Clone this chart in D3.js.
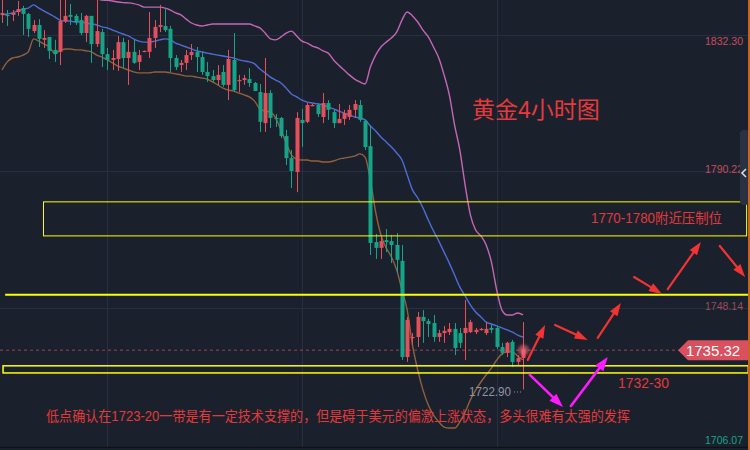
<!DOCTYPE html>
<html><head><meta charset="utf-8">
<script src="https://cdn.jsdelivr.net/npm/d3@7"></script>
<style>
html,body{margin:0;padding:0;background:#1b202d;overflow:hidden}
svg{display:block}
</style></head><body>
<svg id="c" width="750" height="450"></svg>
<script>
const opens=[1838.5,1838.5,1838.5,1839.4,1840.6,1838.8,1833.5,1835.4,1830.8,1831.7,
1827.7,1827.1,1836.6,1838.5,1838.2,1836.9,1832.9,1838.2,1829.5,1833.2,
1826.4,1824.6,1824.9,1830.1,1825.2,1827.1,1824.0,1827.1,1827.1,1831.4,
1834.8,1835.1,1834.2,1825.2,1823.0,1823.7,1826.1,1827.1,1825.5,1820.9,
1819.6,1818.4,1820.9,1816.9,1824.6,1818.1,1818.4,1818.7,1817.5,1814.7,
1805.1,1814.4,1806.7,1806.7,1801.1,1794.3,1790.0,1806.1,1805.5,1810.4,
1810.7,1807.0,1811.3,1808.5,1805.1,1806.4,1807.0,1809.2,1810.7,1805.8,
1798.0,1768.4,1766.6,1769.0,1768.7,1767.5,1762.6,1732.9,1738.8,1739.1,
1745.3,1744.0,1743.4,1739.1,1740.3,1740.6,1741.6,1740.3,1740.3,1740.6,
1740.6,1741.3,1740.3,1741.9,1741.9,1736.0,1734.2,1737.6,1731.4,1732.6];
const highs=[1843.1,1840.0,1840.0,1842.8,1841.3,1839.1,1836.9,1837.2,1833.8,1831.7,
1830.8,1843.1,1843.1,1841.9,1838.8,1839.1,1838.5,1838.2,1843.1,1834.2,
1828.3,1827.7,1832.0,1831.4,1830.8,1830.8,1827.7,1827.5,1839.4,1836.9,
1841.6,1840.6,1835.1,1826.1,1824.6,1827.7,1829.5,1828.6,1827.1,1824.0,
1821.5,1823.0,1823.0,1827.7,1832.9,1820.0,1820.0,1822.1,1817.8,1817.2,
1825.2,1815.3,1807.9,1807.0,1803.0,1796.8,1808.5,1809.5,1811.3,1811.0,
1811.3,1814.4,1812.2,1809.2,1811.0,1809.2,1810.7,1812.2,1812.2,1806.1,
1804.5,1770.9,1770.0,1772.4,1770.6,1771.2,1767.5,1745.3,1740.3,1746.8,
1747.4,1744.7,1745.9,1741.3,1742.5,1743.4,1743.4,1741.9,1750.5,1744.4,
1741.9,1741.9,1743.7,1742.8,1742.5,1737.3,1737.6,1738.2,1733.5,1743.7];
const lows=[1836.0,1835.1,1836.6,1838.2,1832.3,1831.7,1832.9,1828.6,1828.3,1824.9,
1824.0,1823.0,1836.0,1835.4,1835.4,1832.3,1830.1,1823.7,1828.6,1822.4,
1821.5,1821.5,1821.2,1822.1,1816.9,1823.4,1821.5,1827.0,1825.2,1828.3,
1833.2,1833.2,1820.9,1821.5,1820.9,1821.5,1824.6,1820.9,1820.0,1817.8,
1817.8,1816.9,1816.3,1812.2,1814.7,1814.7,1816.9,1816.3,1815.0,1802.4,
1802.4,1803.6,1803.9,1800.5,1792.2,1785.1,1783.8,1797.7,1805.1,1810.3,
1807.0,1805.1,1806.1,1803.6,1805.1,1804.5,1806.1,1806.7,1805.5,1796.8,
1764.4,1763.2,1763.2,1765.3,1761.9,1758.9,1732.0,1731.4,1736.6,1736.0,
1737.3,1739.1,1737.6,1737.6,1737.3,1739.7,1733.5,1735.7,1732.0,1740.3,
1740.0,1741.0,1739.7,1740.3,1735.4,1733.5,1732.9,1729.8,1730.5,1722.90];
const closes=[1839.1,1838.2,1839.1,1840.3,1838.8,1834.2,1835.4,1831.1,1831.4,1827.4,
1826.4,1836.6,1838.2,1837.9,1836.3,1832.9,1838.2,1829.5,1833.5,1826.4,
1824.6,1825.2,1830.1,1825.2,1827.1,1823.7,1826.1,1827.4,1831.4,1834.8,
1835.4,1833.8,1825.2,1822.4,1823.7,1826.1,1827.1,1825.5,1820.9,1819.6,
1818.4,1820.0,1816.9,1824.9,1815.3,1818.4,1819.0,1817.5,1815.0,1805.5,
1814.4,1806.7,1806.4,1801.1,1794.3,1790.3,1806.7,1805.1,1810.7,1810.7,
1807.9,1811.3,1809.2,1805.1,1806.4,1808.2,1809.2,1811.0,1806.1,1797.7,
1768.1,1766.6,1768.7,1768.4,1767.5,1762.9,1732.9,1744.4,1739.1,1745.3,
1744.0,1743.1,1739.1,1740.3,1741.0,1741.6,1735.7,1737.3,1741.9,1743.7,
1741.3,1741.6,1741.6,1741.3,1736.0,1734.2,1737.3,1731.4,1732.6,1735.32];
const bollUpper=[1849,1849,1849,1849.5,1850,1850,1850.5,1850,1849.5,1849,
1848.5,1848.5,1848,1847.5,1847,1846.5,1845.5,1844.5,1843.6,1843.1,
1843.0,1842.8,1842.5,1842.3,1842.2,1842.0,1841.6,1840.9,1840.9,1840.9,
1840.9,1840.6,1840.0,1839.1,1838.5,1837.2,1836.0,1835.4,1835.1,1835.4,
1835.7,1835.7,1835.7,1835.7,1835.7,1835.7,1835.7,1835.7,1835.1,1834.5,
1832.9,1831.1,1830.8,1831.7,1832.9,1833.5,1832.0,1830.4,1829.8,1828.9,
1828.3,1827.4,1826.7,1824.6,1823.0,1821.5,1820.0,1818.7,1817.8,1817.2,
1822.4,1826.1,1828.6,1830.1,1831.4,1833.2,1836.9,1839.4,1838.2,1836.3,
1833.8,1831.7,1828.6,1825.2,1820.0,1813.8,1804.5,1796.8,1786.0,1776.8,
1772.1,1770.3,1767.5,1762.2,1753.6,1747.4,1745.9,1745.9,1746.5,1745.9];
const bollMid=[1838.5,1838.8,1839.1,1839.7,1840.3,1840.6,1841.6,1840.6,1839.7,1838.8,
1837.9,1836.9,1836.6,1836.6,1836.3,1836.3,1836.0,1835.7,1835.4,1834.8,
1834.5,1833.8,1833.2,1832.6,1832.0,1831.1,1830.4,1830.1,1830.1,1830.4,
1830.8,1831.1,1830.8,1829.8,1829.2,1828.6,1828.0,1827.4,1827.1,1826.7,
1826.4,1826.1,1825.8,1825.5,1825.2,1824.6,1824.3,1824.0,1823.4,1821.8,
1820.6,1819.3,1818.4,1817.5,1815.9,1814.1,1813.2,1812.2,1811.6,1811.3,
1811.0,1810.7,1810.1,1809.5,1808.8,1808.2,1807.6,1807.0,1806.7,1806.1,
1804.2,1802.7,1800.8,1799.3,1797.7,1795.9,1793.7,1789.1,1784.5,1782.0,
1778.9,1775.2,1771.8,1768.7,1765.3,1761.9,1758.2,1754.5,1751.8,1749.0,
1746.8,1745.3,1743.7,1743.1,1742.5,1741.9,1741.3,1740.6,1739.7,1739.1];
const bollLower=[1821.5,1824.0,1825.2,1825.5,1826.1,1827.1,1831.1,1830.4,1829.5,1828.6,
1826.7,1827.4,1828.0,1828.0,1827.7,1827.7,1827.4,1827.1,1826.1,1825.5,
1824.6,1823.7,1822.7,1822.1,1821.5,1820.9,1820.6,1820.6,1820.6,1820.9,
1820.9,1820.9,1820.6,1820.3,1820.0,1819.6,1819.6,1819.3,1819.0,1818.7,
1817.8,1816.9,1815.9,1815.3,1815.0,1814.4,1813.8,1813.2,1811.9,1809.5,
1808.8,1808.5,1806.7,1803.0,1799.0,1795.3,1794.0,1793.7,1793.7,1793.4,
1793.4,1793.1,1793.1,1793.4,1794.0,1794.3,1794.6,1794.9,1795.6,1794.6,
1787.5,1777.7,1770.6,1766.6,1763.8,1759.8,1753.6,1747.4,1736.6,1728.9,
1722.7,1718.1,1715.0,1712.9,1711.3,1711.0,1711.0,1712.9,1715.9,1719.7,
1722.7,1725.2,1727.4,1729.5,1732.0,1733.9,1734.5,1734.5,1733.2,1732.0];
const priceTicks=[1832.30,1790.22,1748.14,1706.07];
const lastPrice=1735.32;
const lowLabel=1722.90;
const vGridIdx=[19.95,57.0,94.05];
// annotations (index, price)
const resistZone=[1770.3,1780.8];
const resistLine=1752.1;
const supportZone=[1728.0,1730.2];
const arrowsRed=[[99.9,1732.0,103.2,1742.8],[105.1,1742.8,111.3,1738.2],[113.2,1738.8,117.6,1749.6],
[120.1,1757.6,125.4,1752.4],[126.5,1753.9,132.8,1768.4],[136.4,1767.2,141.2,1757.6]];
const arrowsMag=[[100.3,1727.4,106.6,1717.5],[108.1,1717.8,115.1,1732.9]];
const title="黄金4小时图";
const resistText="1770-1780附近压制位";
const supportText="1732-30";
const note="低点确认在1723-20一带是有一定技术支撑的，但是碍于美元的偏激上涨状态，多头很难有太强的发挥";

const W=750,H=450;
const UP='#e2505c', DOWN='#15a487';
const FONT='"Liberation Sans","Noto Sans CJK SC",sans-serif';
const svg=d3.select('#c');
svg.append('rect').attr('width',W).attr('height',H).attr('fill','#1b202d');

const x=d3.scaleLinear().domain([0,99]).range([2,523]);
const y=d3.scaleLinear().domain([1706.07,1832.30]).range([444,35]);
const data=opens.map((o,i)=>({i,o,h:highs[i],l:lows[i],c:closes[i]}));

// grid
svg.append('g').selectAll('line').data(priceTicks.slice(0,3)).join('line')
  .attr('x1',0).attr('x2',748).attr('y1',d=>Math.round(y(d))+0.5).attr('y2',d=>Math.round(y(d))+0.5)
  .attr('stroke','#273040').attr('stroke-width',1);
svg.append('g').selectAll('line').data(vGridIdx).join('line')
  .attr('x1',d=>Math.round(x(d))+0.5).attr('x2',d=>Math.round(x(d))+0.5).attr('y1',0).attr('y2',447)
  .attr('stroke','#273040').attr('stroke-width',1);
svg.append('line').attr('x1',0).attr('x2',750).attr('y1',447.5).attr('y2',447.5).attr('stroke','#0e1118').attr('stroke-width',1.5);

// price dotted line
svg.append('line').attr('x1',0).attr('x2',680).attr('y1',y(lastPrice)+1).attr('y2',y(lastPrice)+1)
  .attr('stroke','#6e3a47').attr('stroke-width',1.5).attr('stroke-dasharray','3,3');

const defs=svg.append('defs');
defs.append('clipPath').attr('id','pc').append('rect').attr('x',0).attr('y',0).attr('width',700).attr('height',447);
const plot=svg.append('g').attr('clip-path','url(#pc)');

// bollinger
const line=d3.line().x((d,i)=>x(i)).y(d=>y(d)).curve(d3.curveMonotoneX);
plot.append('path').attr('d',line(bollUpper)).attr('fill','none').attr('stroke','#c466b6').attr('stroke-width',1.4);
plot.append('path').attr('d',line(bollLower)).attr('fill','none').attr('stroke','#93603c').attr('stroke-width',1.4);
plot.append('path').attr('d',line(bollMid)).attr('fill','none').attr('stroke','#4f6cd6').attr('stroke-width',1.4);

// candles
const cw=4;
const cg=plot.append('g');
cg.selectAll('line.w').data(data).join('line').attr('class','w')
  .attr('x1',d=>Math.round(x(d.i))+0.5).attr('x2',d=>Math.round(x(d.i))+0.5)
  .attr('y1',d=>y(d.h)).attr('y2',d=>y(d.l))
  .attr('stroke',d=>d.c>=d.o?UP:DOWN).attr('stroke-width',1);
cg.selectAll('rect').data(data).join('rect')
  .attr('x',d=>Math.round(x(d.i))+0.5-cw/2).attr('width',cw)
  .attr('y',d=>y(Math.max(d.o,d.c)))
  .attr('height',d=>Math.max(1.2,Math.abs(y(d.o)-y(d.c))))
  .attr('fill',d=>d.c>=d.o?UP:DOWN);

// glow at last
const f=defs.append('filter').attr('id','blur').attr('x','-1').attr('y','-1').attr('width','3').attr('height','3');
f.append('feGaussianBlur').attr('stdDeviation',1.5);
svg.append('circle').attr('cx',x(99)+0.5).attr('cy',y(lastPrice)+1).attr('r',5.5)
  .attr('fill','#ff6b78').attr('opacity',0.6).attr('filter','url(#blur)');

// low label
svg.append('text').attr('x',511).attr('y',y(lowLabel)+7).attr('text-anchor','end')
  .attr('font-family',FONT).attr('font-size',13).attr('fill','#8f96a2')
  .attr('textLength',42).attr('lengthAdjust','spacingAndGlyphs').text(lowLabel.toFixed(2));
svg.append('line').attr('x1',514).attr('x2',523).attr('y1',y(lowLabel)+2.5).attr('y2',y(lowLabel)+2.5)
  .attr('stroke','#8f96a2').attr('stroke-width',1).attr('stroke-dasharray','1,2');

// yellow annotations
const ya=svg.append('g').attr('fill','none').attr('stroke','#ffff00');
ya.append('rect').attr('x',Math.round(x(7.8))+0.5).attr('y',y(resistZone[1])).attr('width',x(141.4)-x(7.8)).attr('height',y(resistZone[0])-y(resistZone[1])).attr('stroke-width',1);
ya.append('line').attr('x1',x(0.6)).attr('x2',750).attr('y1',y(resistLine)).attr('y2',y(resistLine)).attr('stroke-width',2);
ya.append('rect').attr('x',x(0.2)).attr('y',y(supportZone[1])).attr('width',x(141.8)-x(0.2)).attr('height',y(supportZone[0])-y(supportZone[1])).attr('stroke-width',1.5);

// arrows
function arrow(a,color,lw,hl,hw){
  const x1=x(a[0]),y1=y(a[1]),x2=x(a[2]),y2=y(a[3]);
  const dx=x2-x1,dy=y2-y1,L=Math.hypot(dx,dy),ux=dx/L,uy=dy/L;
  const bx=x2-ux*hl,by=y2-uy*hl;
  svg.append('line').attr('x1',x1).attr('y1',y1).attr('x2',bx+ux*1).attr('y2',by+uy*1)
    .attr('stroke',color).attr('stroke-width',lw).attr('stroke-linecap','round');
  svg.append('path').attr('d',`M${x2},${y2}L${bx-uy*hw/2},${by+ux*hw/2}L${bx+uy*hw/2},${by-ux*hw/2}Z`).attr('fill',color);
}
arrowsRed.forEach(a=>arrow(a,'#f23333',2.2,13,9));
arrowsMag.forEach(a=>arrow(a,'#ff1aff',2.6,14,10));

// texts
svg.append('text').attr('x',472).attr('y',118).attr('font-family',FONT).attr('font-size',23)
  .attr('fill','#e63a3a').text(title);
svg.append('text').attr('x',591).attr('y',223).attr('font-family',FONT).attr('font-size',14)
  .attr('fill','#e23a3a').attr('textLength',131).attr('lengthAdjust','spacingAndGlyphs').text(resistText);
svg.append('text').attr('x',618).attr('y',388).attr('font-family',FONT).attr('font-size',15)
  .attr('fill','#e23a3a').attr('textLength',51).attr('lengthAdjust','spacingAndGlyphs').text(supportText);
svg.append('text').attr('x',46).attr('y',421).attr('font-family',FONT).attr('font-size',14)
  .attr('fill','#e23a3a').attr('textLength',584).attr('lengthAdjust','spacingAndGlyphs').text(note);

// price axis labels
const tickColors=['#c94c5c','#c94c5c','#9c4b58','#16a487'];
svg.append('g').selectAll('text').data(priceTicks).join('text')
  .attr('x',705).attr('y',d=>Math.min(440,Math.max(41,y(d)-2))).attr('dy','0.35em')
  .attr('font-family',FONT).attr('font-size',11.5).attr('fill',(d,i)=>tickColors[i])
  .attr('textLength',38).attr('lengthAdjust','spacingAndGlyphs')
  .text(d=>d.toFixed(2));

// scroll handle
svg.append('rect').attr('x',740).attr('y',130).attr('width',9).attr('height',75).attr('rx',4).attr('fill','#2a3241');
svg.append('path').attr('d','M746,169L742,173L746,177').attr('fill','none').attr('stroke','#d8dce4').attr('stroke-width',1.6);

// last price tag
const ty=y(lastPrice)+1;
svg.append('path').attr('d',`M678,${ty}L688,${ty-10}L750,${ty-10}L750,${ty+10}L688,${ty+10}Z`).attr('fill','#d9505e');
svg.append('text').attr('x',713).attr('y',ty).attr('dy','0.36em').attr('text-anchor','middle')
  .attr('font-family',FONT).attr('font-size',15).attr('fill','#ffffff').text(lastPrice.toFixed(2));

// right edge
svg.append('rect').attr('x',748).attr('y',0).attr('width',2).attr('height',450).attr('fill','#c8641e');
</script>
</body></html>
